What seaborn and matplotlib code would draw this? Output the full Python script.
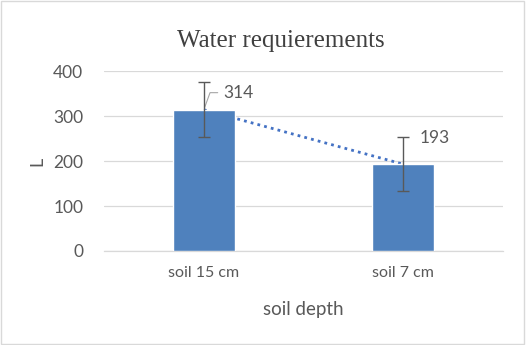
import matplotlib
matplotlib.use("Agg")
import matplotlib.pyplot as plt
import seaborn as sns
import pandas as pd
from matplotlib.patches import Rectangle

categories = ["soil 15 cm", "soil 7 cm"]
values = [314, 193]
errors = [61, 60]
labels = ["314", "193"]

sns.set_theme(style="white")
plt.rcParams['font.family'] = ['Lato', 'DejaVu Sans']

grey = "#595959"
gridc = "#D9D9D9"
barc = "#4F81BD"

fig = plt.figure(figsize=(5.26, 3.45), dpi=100)
ax = fig.add_axes([0.198, 0.2725, 0.758, 0.5215])

df = pd.DataFrame({"cat": categories, "val": values})
sns.barplot(data=df, x="cat", y="val", width=0.31, color=barc, saturation=1,
            errorbar=None, ax=ax, zorder=3)
ax.errorbar(range(len(values)), values, yerr=errors, fmt="none", ecolor=grey,
            elinewidth=1, capsize=4.5, capthick=1, zorder=4)
ax.plot(range(len(values)), values, linestyle=(0, (1, 1.5)), color="#4472C4",
        linewidth=2, zorder=2)

ax.set_xlim(-0.5, 1.5)
ax.set_ylim(0, 400)
ax.set_yticks([0, 100, 200, 300, 400])
ax.yaxis.grid(True, color=gridc, linewidth=0.9, zorder=0)
ax.set_axisbelow(True)
for s in ["left", "right", "top"]:
    ax.spines[s].set_visible(False)
ax.spines["bottom"].set_color(gridc)
ax.spines["bottom"].set_linewidth(0.9)
ax.tick_params(axis="both", length=0, colors=grey)
ax.tick_params(axis="y", labelsize=12.5, pad=15)
ax.tick_params(axis="x", labelsize=11.5, pad=11)
ax.set_xlabel("soil depth", color=grey, fontsize=13.5, labelpad=15)
ax.set_ylabel("L", color=grey, fontsize=13, labelpad=5.5)

# data labels
ax.annotate(labels[0], xy=(0, values[0]), xytext=(0.1, 352), color=grey,
            fontsize=12.5, va="center", ha="left",
            arrowprops=dict(arrowstyle="-", color="#A6A6A6", lw=0.8,
                            connectionstyle="angle,angleA=0,angleB=70,rad=0"))
ax.text(1.085, 251, labels[1], color=grey, fontsize=12.5, va="center", ha="left")

fig.text(0.534, 0.88, "Water requierements", ha="center", va="center",
         fontsize=18, color="#404040", family=["Liberation Serif", "DejaVu Serif"])

fig.patches.append(Rectangle((0.002, 0.003), 0.995, 0.994, transform=fig.transFigure,
                             fill=False, edgecolor=gridc, linewidth=1))

fig.savefig("out.png", dpi=100)
